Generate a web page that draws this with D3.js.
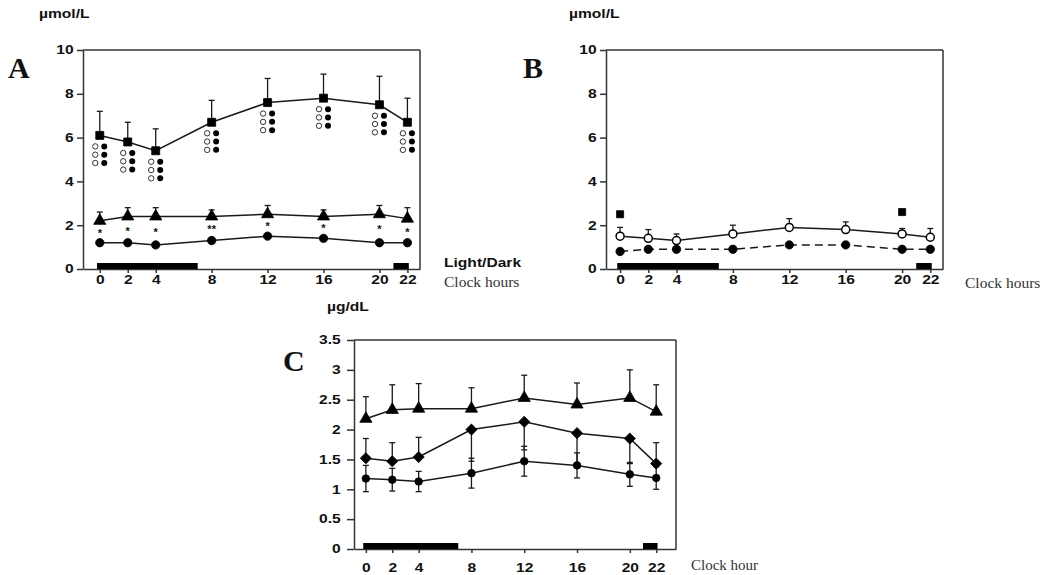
<!DOCTYPE html>
<html><head><meta charset="utf-8">
<script src="https://cdn.jsdelivr.net/npm/d3@7"></script>
<style>body{margin:0;background:#fff} svg{display:block}</style>
</head><body>
<svg id="c" width="1048" height="575"></svg>
<script>
// ---------- data ----------
const hours = [0, 2, 4, 8, 12, 16, 20, 22];
const darkPeriods = [[-0.2, 7], [21, 22.1]];
const yTicksAB = [0, 2, 4, 6, 8, 10];
const yTicksC = [0, 0.5, 1, 1.5, 2, 2.5, 3, 3.5];

// Panel A (µmol/L)
const aSquare = [6.1, 5.8, 5.4, 6.7, 7.6, 7.8, 7.5, 6.7];
const aSquareErr = [1.1, 0.9, 1.0, 1.0, 1.1, 1.1, 1.3, 1.1];
const aTriangle = [2.2, 2.4, 2.4, 2.4, 2.5, 2.4, 2.5, 2.3];
const aTriangleErr = [0.4, 0.4, 0.4, 0.3, 0.4, 0.3, 0.4, 0.5];
const aCircle = [1.2, 1.2, 1.1, 1.3, 1.5, 1.4, 1.2, 1.2];
const aStars = ["*", "*", "*", "**", "*", "*", "*", "*"];
const aOpenMarks = [3, 3, 3, 3, 3, 3, 3, 3];
const aFilledMarks = [3, 3, 3, 3, 3, 3, 3, 3];

// Panel B (µmol/L)
const bOpen = [1.5, 1.4, 1.3, 1.6, 1.9, 1.8, 1.6, 1.45];
const bOpenErr = [0.4, 0.4, 0.3, 0.4, 0.4, 0.35, 0.25, 0.4];
const bFilled = [0.8, 0.9, 0.9, 0.9, 1.1, 1.1, 0.9, 0.9];
const bSigHours = [0, 20];
const bSigValues = [2.5, 2.6];

// Panel C (µg/dL)
const cTriangle = [2.18, 2.33, 2.35, 2.35, 2.53, 2.42, 2.53, 2.3];
const cTriangleErr = [0.37, 0.42, 0.42, 0.35, 0.38, 0.36, 0.47, 0.45];
const cDiamond = [1.52, 1.47, 1.54, 2.0, 2.13, 1.94, 1.85, 1.43];
const cDiamondErr = [0.33, 0.31, 0.33, -0.53, -0.47, -0.54, -0.42, 0.35];
const cCircle = [1.18, 1.16, 1.13, 1.27, 1.47, 1.4, 1.25, 1.19];
const cCircleErr = [0.22, 0.19, 0.17, 0.25, 0.25, 0.21, 0.2, 0.19];

// ---------- drawing ----------
const svg = d3.select("#c");
const INK = "#111";
const AX = "#333";
const SX = 1.3; // horizontal stretch of the sans labels
const SANS = "'Liberation Sans', Arial, Helvetica, sans-serif";
const SERIF = "'Liberation Serif', 'Times New Roman', serif";

function sansText(x, y, str, size, anchor) {
  return svg.append("text")
    .attr("transform", `translate(${x},${y}) scale(${SX},1)`)
    .attr("text-anchor", anchor || "start")
    .attr("font-family", SANS).attr("font-weight", "bold")
    .attr("font-size", size).attr("fill", INK).text(str);
}
function serifText(x, y, str, size, bold) {
  return svg.append("text").attr("x", x).attr("y", y)
    .attr("font-family", SERIF).attr("font-weight", bold ? "bold" : "normal")
    .attr("font-size", size).attr("fill", bold ? INK : "#333").text(str);
}

function makePanel(cfg) {
  const x = d3.scaleLinear().domain(cfg.xDomain).range([cfg.left, cfg.right]);
  const y = d3.scaleLinear().domain(cfg.yDomain).range([cfg.bottom, cfg.top]);
  const g = svg.append("g");

  const ya = g.append("g").attr("transform", `translate(${cfg.left},0)`)
    .call(d3.axisLeft(y).tickValues(cfg.yTicks).tickSize(cfg.yTickLen)
      .tickPadding(cfg.yPad).tickSizeOuter(0).tickFormat(d3.format("")));
  const xa = g.append("g").attr("transform", `translate(0,${cfg.bottom})`)
    .call(d3.axisBottom(x).tickValues(hours).tickSize(4).tickPadding(cfg.xPad)
      .tickSizeOuter(0).tickFormat(d3.format("d")));
  [ya, xa].forEach(a => {
    a.select(".domain").attr("stroke", AX).attr("stroke-width", 1.5);
    a.selectAll(".tick line").attr("stroke", AX).attr("stroke-width", 1.5);
    a.selectAll("text").attr("font-family", SANS).attr("font-weight", "bold")
      .attr("font-size", 12).attr("fill", INK)
      .attr("transform", `scale(${SX},1)`);
  });
  // top and right frame
  g.append("line").attr("x1", cfg.left).attr("x2", cfg.right)
    .attr("y1", cfg.top).attr("y2", cfg.top).attr("stroke", AX).attr("stroke-width", 1.5);
  g.append("line").attr("x1", cfg.right).attr("x2", cfg.right)
    .attr("y1", cfg.top).attr("y2", cfg.bottom).attr("stroke", AX).attr("stroke-width", 1.5);
  // light/dark bars
  g.selectAll("rect.dark").data(darkPeriods).join("rect").attr("class", "dark")
    .attr("x", d => x(d[0])).attr("width", d => x(d[1]) - x(d[0]))
    .attr("y", cfg.bottom - 6).attr("height", 6).attr("fill", "#000");
  return { g, x, y };
}

function line(p, values, dash) {
  const gen = d3.line().x((d, i) => p.x(hours[i])).y(d => p.y(d));
  p.g.append("path").datum(values).attr("d", gen).attr("fill", "none")
    .attr("stroke", "#1a1a1a").attr("stroke-width", 1.5)
    .attr("stroke-dasharray", dash || null);
}
function errBars(p, values, errs, both) {
  values.forEach((v, i) => {
    const xx = p.x(hours[i]);
    const ends = both ? [v + errs[i], v - errs[i]] : [v + errs[i]];
    ends.forEach(e => {
      p.g.append("line").attr("x1", xx).attr("x2", xx).attr("y1", p.y(v)).attr("y2", p.y(e))
        .attr("stroke", "#1a1a1a").attr("stroke-width", 1.3);
      p.g.append("line").attr("x1", xx - 3).attr("x2", xx + 3).attr("y1", p.y(e)).attr("y2", p.y(e))
        .attr("stroke", "#1a1a1a").attr("stroke-width", 1.3);
    });
  });
}
function markers(p, values, type, size, fill, xs, rot) {
  const sym = d3.symbol().type(type).size(size);
  p.g.selectAll(null).data(values).join("path")
    .attr("d", sym)
    .attr("transform", (d, i) => `translate(${p.x((xs || hours)[i])},${p.y(d)}) rotate(${rot || 0})`)
    .attr("fill", fill).attr("stroke", "#000").attr("stroke-width", fill === "#fff" ? 1.5 : 0.8);
}

// ----- Panel A -----
const A = makePanel({ left: 83, right: 420, top: 50, bottom: 269, xDomain: [-1.2, 22.9],
  yDomain: [0, 10], yTicks: yTicksAB, yTickLen: 6, yPad: 1.2, xPad: 2 });
line(A, aSquare); line(A, aTriangle); line(A, aCircle);
errBars(A, aSquare, aSquareErr); errBars(A, aTriangle, aTriangleErr);
markers(A, aSquare, d3.symbolSquare, 64, "#000");
markers(A, aTriangle, d3.symbolTriangle, 64, "#000");
markers(A, aCircle, d3.symbolCircle, 55, "#000");
aSquare.forEach((v, i) => {
  const cx = A.x(hours[i]), top = A.y(v) + 11;
  for (let k = 0; k < aOpenMarks[i]; k++)
    A.g.append("circle").attr("cx", cx - 4.5).attr("cy", top + k * 8.3).attr("r", 2.7)
      .attr("fill", "#fff").attr("stroke", "#333").attr("stroke-width", 1);
  for (let k = 0; k < aFilledMarks[i]; k++)
    A.g.append("circle").attr("cx", cx + 4.5).attr("cy", top + k * 8.3).attr("r", 3)
      .attr("fill", "#000");
});
aStars.forEach((s, i) => {
  A.g.append("text").attr("x", A.x(hours[i])).attr("y", A.y((aCircle[i] + aTriangle[i]) / 2) + 5)
    .attr("text-anchor", "middle").attr("font-family", SANS).attr("font-weight", "bold")
    .attr("font-size", 11).attr("fill", INK).text(s);
});

// ----- Panel B -----
const B = makePanel({ left: 606, right: 943, top: 50, bottom: 269, xDomain: [-1.0, 22.9],
  yDomain: [0, 10], yTicks: yTicksAB, yTickLen: 6, yPad: 1.2, xPad: 2 });
line(B, bFilled, "8,5"); line(B, bOpen);
errBars(B, bOpen, bOpenErr);
markers(B, bFilled, d3.symbolCircle, 55, "#000");
markers(B, bOpen, d3.symbolCircle, 50, "#fff");
markers(B, bSigValues, d3.symbolSquare, 50, "#000", bSigHours);

// ----- Panel C -----
const C = makePanel({ left: 354, right: 676, top: 340, bottom: 549, xDomain: [-0.9, 23.5],
  yDomain: [0, 3.5], yTicks: yTicksC, yTickLen: 7, yPad: 3.2, xPad: 10 });
line(C, cTriangle); line(C, cDiamond); line(C, cCircle);
errBars(C, cTriangle, cTriangleErr); errBars(C, cDiamond, cDiamondErr); errBars(C, cCircle, cCircleErr, true);
markers(C, cTriangle, d3.symbolTriangle, 64, "#000");
markers(C, cDiamond, d3.symbolSquare, 62, "#000", null, 45);
markers(C, cCircle, d3.symbolCircle, 45, "#000");

// ----- labels -----
sansText(39, 18, "µmol/L", 12);
sansText(569, 18, "µmol/L", 12);
sansText(327, 311, "µg/dL", 12);
serifText(8, 78, "A", 30, true);
serifText(523, 78, "B", 30, true);
serifText(283, 371, "C", 30, true);
sansText(444, 267, "Light/Dark", 12);
serifText(444, 287, "Clock hours", 15.5);
serifText(965, 288, "Clock hours", 15.5);
serifText(691, 570, "Clock hour", 15);
</script>
</body></html>
